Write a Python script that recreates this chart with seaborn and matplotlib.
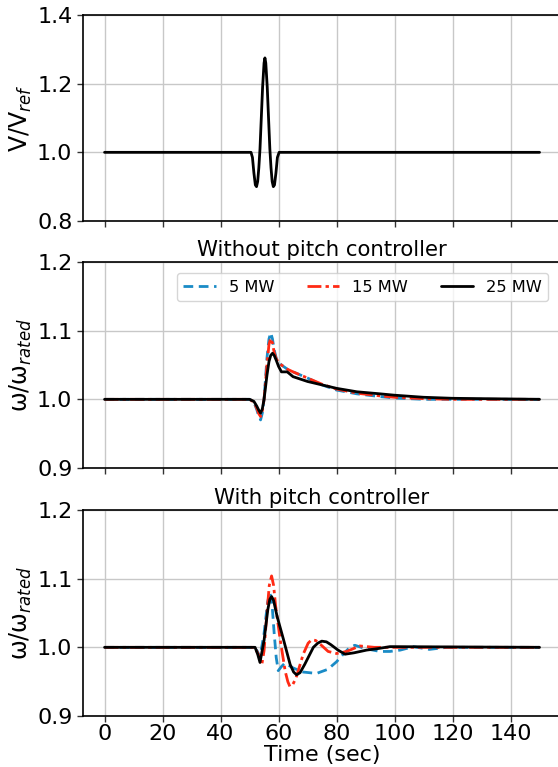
import matplotlib
matplotlib.use("Agg")
import matplotlib.pyplot as plt
import seaborn as sns
import pandas as pd

# ---- data ----
t_v = [0, 50.5, 51.0, 51.5, 52.0, 52.4, 52.8, 53.2, 53.6, 54.0, 54.5, 55.0, 55.3, 55.6, 56.1, 56.6, 57.0, 57.4, 57.8, 58.2, 58.6, 59.1, 59.6, 60.2, 150]
v_ref = [1.0, 1.0, 0.985, 0.94, 0.905, 0.90, 0.915, 0.955, 1.01, 1.09, 1.19, 1.26, 1.275, 1.26, 1.19, 1.09, 1.01, 0.955, 0.915, 0.90, 0.905, 0.94, 0.985, 1.0, 1.0]

series_names = ["5 MW", "15 MW", "25 MW"]

# Without pitch controller
t_np = [0, 50, 51.5, 52.5, 53.2, 53.8, 54.4, 55, 56, 56.7, 57.3, 57.9, 58.5, 59.2, 60, 61, 63, 65, 70, 75, 80, 87, 95, 100, 110, 120, 130, 150]
np_5 = [1.0, 1.0, 0.996, 0.985, 0.975, 0.970, 0.980, 1.00, 1.06, 1.088, 1.097, 1.088, 1.072, 1.060, 1.054, 1.050, 1.044, 1.040, 1.031, 1.021, 1.0135, 1.008, 1.004, 1.002, 1.000, 1.000, 1.000, 1.000]
np_15 = [1.0, 1.0, 0.996, 0.987, 0.979, 0.975, 0.983, 1.00, 1.05, 1.080, 1.089, 1.082, 1.068, 1.059, 1.054, 1.050, 1.044, 1.040, 1.031, 1.022, 1.015, 1.009, 1.005, 1.003, 1.001, 1.000, 1.000, 1.000]
np_25 = [1.0, 1.0, 0.997, 0.990, 0.984, 0.980, 0.986, 1.00, 1.035, 1.055, 1.064, 1.067, 1.064, 1.057, 1.048, 1.040, 1.040, 1.033, 1.026, 1.021, 1.016, 1.011, 1.008, 1.006, 1.003, 1.0015, 1.001, 1.000]

# With pitch controller
t_p5 = [0, 51.5, 52.6, 53.6, 55.0, 56.2, 57.0, 57.8, 58.5, 59.2, 59.9, 61.0, 62.2, 65, 68.5, 73.1, 77, 80, 82.5, 84.6, 86.3, 90, 95, 98.4, 102, 106.5, 112, 118, 150]
p_5 = [1.0, 1.0, 0.995, 0.986, 1.02, 1.065, 1.081, 1.06, 1.02, 0.985, 0.966, 0.972, 0.977, 0.970, 0.964, 0.962, 0.968, 0.979, 0.991, 1.0, 1.003, 0.998, 0.994, 0.994, 0.996, 1.001, 0.997, 1.0, 1.0]
t_p15 = [0, 51.8, 53.0, 54.2, 55.0, 55.8, 56.8, 57.6, 58.3, 59.0, 60.5, 62.3, 63.2, 63.9, 64.8, 66, 68.5, 70.2, 71.4, 72.8, 74, 77.1, 80, 83.5, 88, 93, 150]
p_15 = [1.0, 1.0, 0.99, 0.974, 0.995, 1.04, 1.09, 1.104, 1.09, 1.06, 1.013, 0.965, 0.950, 0.943, 0.945, 0.955, 0.99, 1.006, 1.011, 1.010, 1.006, 0.994, 0.991, 0.994, 1.002, 1.0, 1.0]
t_p25 = [0, 51.9, 52.8, 53.6, 55.0, 56.3, 57.0, 57.6, 58.3, 59.5, 61.6, 64, 65.2, 66.2, 67.4, 69, 72, 73.5, 74.9, 76.5, 78, 80.5, 82.9, 86, 90.4, 94, 98.4, 150]
p_25 = [1.0, 1.0, 0.99, 0.978, 1.01, 1.055, 1.070, 1.074, 1.068, 1.045, 1.013, 0.975, 0.964, 0.960, 0.963, 0.975, 1.0, 1.006, 1.009, 1.008, 1.004, 0.996, 0.990, 0.992, 0.996, 0.998, 1.001, 1.0]

# ---- figure ----
sns.set_style("ticks")
plt.rcParams["font.family"] = ["DejaVu Sans"]
plt.rcParams["text.color"] = "black"
plt.rcParams["axes.labelcolor"] = "black"
plt.rcParams["xtick.color"] = "black"
plt.rcParams["ytick.color"] = "black"

fig = plt.figure(figsize=(5.58, 7.67), dpi=100)
W = 478.5 / 558
L = 82.8 / 558
H = 206 / 767
ax1 = fig.add_axes([L, 1 - 221 / 767, W, H])
ax2 = fig.add_axes([L, 1 - 468 / 767, W, H], sharex=ax1)
ax3 = fig.add_axes([L, 1 - 716 / 767, W, H], sharex=ax1)

colors = {"5 MW": "#1a8bc6", "15 MW": "#ff2a14", "25 MW": "#000000"}
dashes = {"5 MW": (3.5, 2), "15 MW": (5, 1.5, 1.2, 1.5), "25 MW": ""}

df_v = pd.DataFrame({"t": t_v, "v": v_ref})
sns.lineplot(data=df_v, x="t", y="v", ax=ax1, color="black", lw=2)

def mk(ts, ys):
    frames = []
    for name, tt, yy in zip(series_names, ts, ys):
        frames.append(pd.DataFrame({"t": tt, "w": yy, "P": name}))
    return pd.concat(frames, ignore_index=True)

df_np = mk([t_np, t_np, t_np], [np_5, np_15, np_25])
df_p = mk([t_p5, t_p15, t_p25], [p_5, p_15, p_25])

for ax, df, leg in [(ax2, df_np, True), (ax3, df_p, False)]:
    sns.lineplot(data=df, x="t", y="w", hue="P", style="P", palette=colors,
                 dashes=dashes, hue_order=series_names, style_order=series_names,
                 ax=ax, lw=2, legend=leg, sort=False)

ax1.set_ylim(0.8, 1.4)
ax1.set_yticks([0.8, 1.0, 1.2, 1.4])
for ax in (ax2, ax3):
    ax.set_ylim(0.9, 1.2)
    ax.set_yticks([0.9, 1.0, 1.1, 1.2])
ax1.set_xlim(-7.5, 157.5)
ax3.set_xticks(range(0, 141, 20))

for ax in (ax1, ax2, ax3):
    ax.grid(True, color="#c8c8c8", lw=1)
    ax.tick_params(labelsize=16, length=4, width=1, color="#333333", labelcolor="black")
    for s in ax.spines.values():
        s.set_color("black")
        s.set_linewidth(1.2)
    ax.set_xlabel("")
for ax in (ax1, ax2):
    plt.setp(ax.get_xticklabels(), visible=False)
ax3.tick_params(axis="x", pad=2)

ax1.set_ylabel("V/V$_{ref}$", fontsize=17, labelpad=2)
ax2.set_ylabel("ω/ω$_{rated}$", fontsize=17, labelpad=2)
ax3.set_ylabel("ω/ω$_{rated}$", fontsize=17, labelpad=2)
ax3.set_xlabel("Time (sec)", fontsize=16, va="center")
ax3.xaxis.set_label_coords(0.5, (716 - 754.5) / 206)

ax2.set_title("Without pitch controller", fontsize=15.3, pad=4, color="black")
ax3.set_title("With pitch controller", fontsize=15.3, pad=4, color="black")

leg = ax2.legend(loc="upper right", ncol=3, fontsize=11.7, frameon=True,
                 bbox_to_anchor=(0.99, 0.985), handlelength=2.0, columnspacing=2.0,
                 borderpad=0.4)
leg.set_title(None)

fig.savefig("out.png", dpi=100)
